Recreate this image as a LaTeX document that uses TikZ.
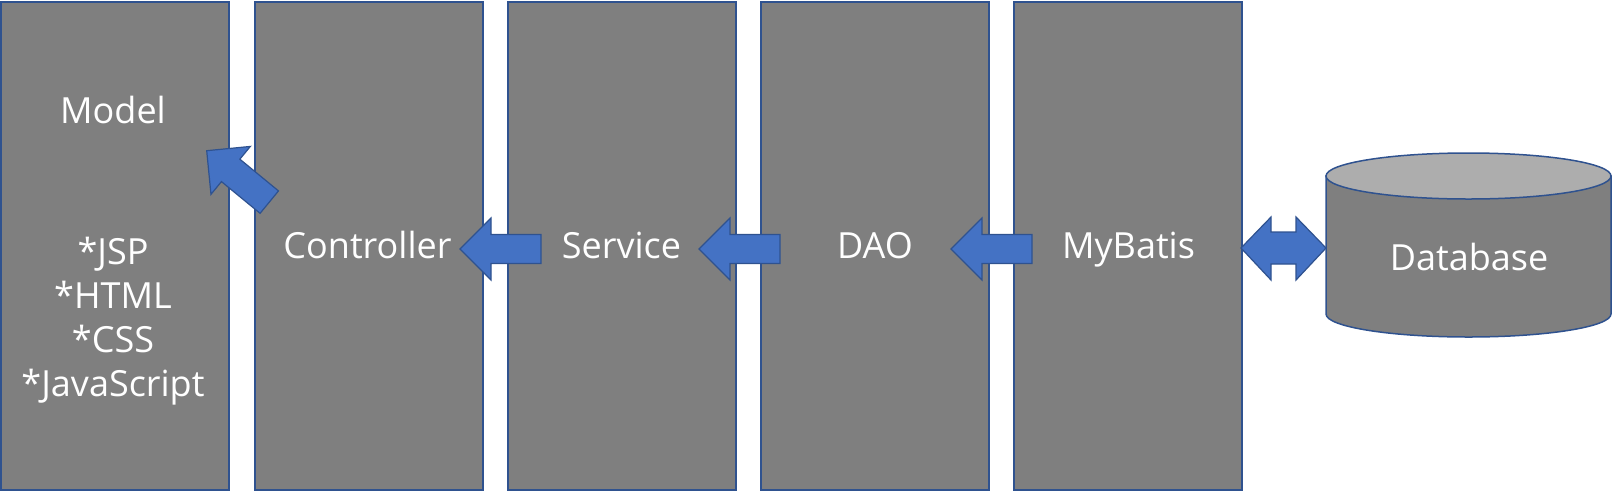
\documentclass[tikz,border=0pt]{standalone}
\usepackage{fontspec}
\setmainfont{Open Sans}
\usetikzlibrary{positioning}
\definecolor{layerfill}{HTML}{7F7F7F}
\definecolor{layerline}{HTML}{2F528F}
\definecolor{arrowfill}{HTML}{4472C4}
\definecolor{dbtop}{HTML}{ADADAD}
\tikzset{
  layer/.style={draw=layerline, line width=2pt, fill=layerfill,
    minimum width=228pt, minimum height=488pt, inner sep=0pt},
  layertext/.style={text=white, font=\fontsize{36}{44}\selectfont, inner sep=0pt},
  blockarrow/.style={draw=layerline, line width=1.2pt, fill=arrowfill, line join=miter},
  dbline/.style={draw=layerline, line width=1.5pt},
}
% block arrow pointing left, tip at #1, turned by #2
\newcommand{\leftblockarrow}[2]{%
  \begin{scope}[shift={#1}, rotate=#2]
    \draw[blockarrow] (0,0) -- (31,-31) -- (31,-14.5) -- (81,-14.5)
      -- (81,14.5) -- (31,14.5) -- (31,31) -- cycle;
  \end{scope}}

\begin{document}
\begin{tikzpicture}[x=1pt, y=-1pt]
  \useasboundingbox (0,0) rectangle (1612,491);

  % layers
  \node[layer] (model) at (115.25,245.5) {};
  \node[layer, right=23.25pt of model] (ctrl) {};
  \node[layer, right=23.25pt of ctrl] (svc) {};
  \node[layer, right=23.25pt of svc] (dao) {};
  \node[layer, right=23.25pt of dao] (mybatis) {};

  % database
  \path[dbline, fill=layerfill] (1326,176) -- (1326,314)
    arc[start angle=180, end angle=0, x radius=142.5, y radius=23]
    -- (1611,176) -- cycle;
  \draw[dbline, fill=dbtop] (1468.5,176) ellipse [x radius=142.5, y radius=23];
  \node[layertext, anchor=base] (db) at (1469,270) {Database};

  % texts
  \node[layertext, anchor=base] (modeltext) at (113,123) {Model};
  \node[layertext, align=center] (viewtext) at (113,321)
    {*JSP\\*HTML\\*CSS\\*JavaScript};
  \node[layertext, anchor=base] (ctrltext) at (367.5,258) {Controller};
  \node[layertext, anchor=base] (svctext) at (621.5,258) {Service};
  \node[layertext, anchor=base] (daotext) at (875,258) {DAO};
  \node[layertext, anchor=base] (mybatistext) at (1128.5,258) {MyBatis};

  % arrows
  \leftblockarrow{(460,249)}{0}
  \leftblockarrow{(699,249)}{0}
  \leftblockarrow{(951,249)}{0}
  \leftblockarrow{(206.7,150.7)}{-39.4}
  \draw[blockarrow] (1241,248) -- (1271,217) -- (1271,232) -- (1296,232)
    -- (1296,217) -- (1326,248) -- (1296,280) -- (1296,264) -- (1271,264)
    -- (1271,280) -- cycle;
\end{tikzpicture}
\end{document}
